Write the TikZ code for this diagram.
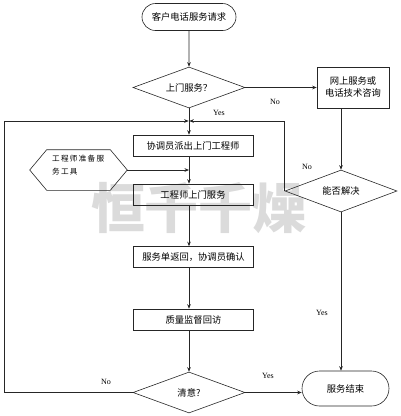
\documentclass[tikz,border=0pt]{standalone}
\usepackage{fontspec}
\setmainfont{Liberation Serif}
\newfontfamily\cjk{Noto Sans CJK SC}
\usetikzlibrary{shapes.geometric,shapes.misc,arrows.meta}
\begin{document}
\begin{tikzpicture}[x={(1pt,0)},y={(0,-1pt)},
  base/.style={draw=black!85,line width=0.6pt,inner sep=0pt,font=\cjk\fontsize{9.3}{12}\selectfont},
  proc/.style={base,rectangle,minimum width=120pt,minimum height=21pt},
  term/.style={base,rounded rectangle},
  dec/.style={base,diamond,aspect=2.73,minimum width=112pt,minimum height=41pt},
  arr/.style={draw=black!85,line width=0.6pt,-{Stealth[length=4.5pt,width=3.6pt]}},
  lbl/.style={font=\fontsize{8}{10}\selectfont,inner sep=0pt},
  wm/.style={text=black!14,font=\cjk\bfseries\fontsize{54}{60}\selectfont,inner sep=0pt}]
\useasboundingbox (0,0) rectangle (400,416);
\node[wm] (mark) at (199,208) {恒千千燥};

\node[term,minimum width=94pt,minimum height=27pt] (start) at (189,17) {客户电话服务请求};
\node[dec] (d1) at (189,87.5) {上门服务？};
\node[proc,minimum width=72pt,minimum height=41pt,align=center] (web) at (353,87.5) {网上服务或\\电话技术咨询};
\node[proc] (b1) at (193,145.5) {协调员派出上门工程师};
\node[base,draw=none,minimum width=97pt,minimum height=40pt] (hex) at (78.5,170) {};
\draw[black!85,line width=0.6pt] (hex.west) -- ([xshift=17pt]hex.north west) -- ([xshift=-17pt]hex.north east) -- (hex.east) -- ([xshift=-17pt]hex.south east) -- ([xshift=17pt]hex.south west) -- cycle;
\node[font=\cjk\fontsize{7.6}{13}\selectfont,align=left,inner sep=0pt,anchor=north west] (hext) at (52,155) {工\,程\,师\,准\,备\,服\\务\,工\,具};
\node[proc] (b2) at (193,194.5) {工程师上门服务};
\node[proc] (b3) at (193.5,257) {服务单返回，协调员确认};
\node[proc] (b4) at (193.5,319.5) {质量监督回访};
\node[dec] (d2) at (189,392.5) {清意?};
\node[dec,minimum width=112pt,minimum height=42pt] (d3) at (341,191) {能否解决};
\node[term,minimum width=87pt,minimum height=35pt] (end) at (345.5,388.5) {服务结束};
\coordinate (j) at (189,121);

\draw[arr] (start) -- (d1);
\draw[arr] (d1.east) -- (web.west);
\draw[arr] (d1.south) -- (d1.south |- b1.north);
\draw[arr] (d2.west) -- ++(-128,0) |- ([xshift=-0.3pt]j);
\draw[arr] (d3.west) |- ([xshift=0.3pt]j);
\draw[arr] (hex.east) -- (hex.east -| j);
\draw[arr] (b1.south -| j) -- (b2.north -| j);
\draw[arr] (b2.south -| j) -- (b3.north -| j);
\draw[arr] (b3.south -| j) -- (b4.north -| j);
\draw[arr] (b4.south -| j) -- (d2.north);
\draw[arr] (web.south -| d3.north) -- (d3.north);
\draw[arr] (d3.south) -- (d3.south |- end.north);
\draw[arr] (d2.east) -- (d2.east -| end.west);

\node[lbl] (l1) at (275,102) {No};
\node[lbl] (l2) at (219,113) {Yes};
\node[lbl] (l3) at (307,167) {No};
\node[lbl] (l4) at (322,313) {Yes};
\node[lbl] (l5) at (268,376) {Yes};
\node[lbl] (l6) at (106,382) {No};
\end{tikzpicture}
\end{document}
